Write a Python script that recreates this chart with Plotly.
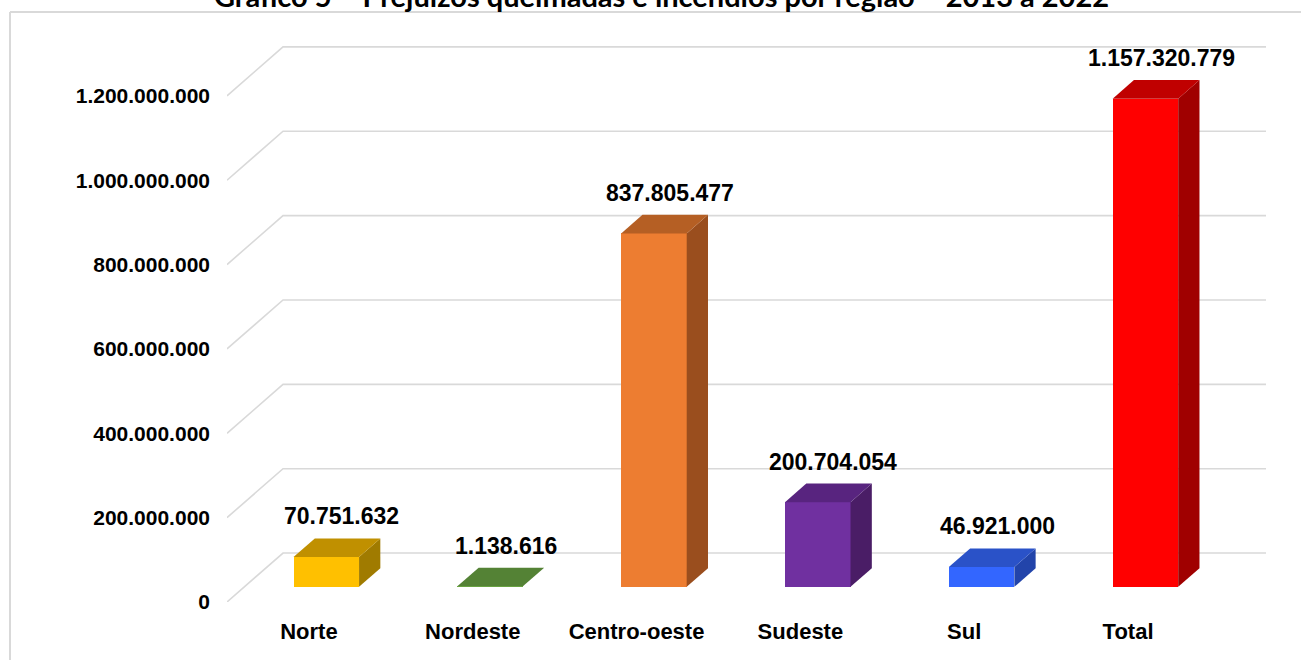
import plotly.graph_objects as go

# ---- data -------------------------------------------------------------
categories = ["Norte", "Nordeste", "Centro-oeste", "Sudeste", "Sul", "Total"]
values = [70751632, 1138616, 837805477, 200704054, 46921000, 1157320779]
y_ticks = [0, 200e6, 400e6, 600e6, 800e6, 1000e6, 1200e6]

front_colors = ["#FFC000", "#70AD47", "#ED7D31", "#7030A0", "#3366FF", "#FF0000"]
top_colors = ["#C09000", "#548235", "#B55F24", "#58247F", "#2A52C8", "#C00000"]
side_colors = ["#A07B00", "#466E2C", "#9A4E1E", "#4A1D66", "#2244AA", "#A00000"]

TITLE = "Gráfico 5 – Prejuízos queimadas e incêndios por região – 2013 a 2022"

# ---- oblique projection of the 3-D floor -----------------------------
FLOOR_DX = 0.342      # floor depth, in category units
FLOOR_DY = 116e6      # floor depth, in value units
BAR_FRONT, BAR_BACK = 0.31, 0.69   # bar position inside the floor depth
BAR_WIDTH = 0.40

x_lo, x_hi = -0.5, len(categories) - 0.5
bar_dx = (BAR_BACK - BAR_FRONT) * FLOOR_DX
bar_dy = (BAR_BACK - BAR_FRONT) * FLOOR_DY
base = BAR_FRONT * FLOOR_DY
xc = [i + BAR_FRONT * FLOOR_DX for i in range(len(categories))]

# page geometry (pixels)
W, H = 1301, 660
ML, MR, MT, MB = 227, 35, 41, 58
pw, ph = W - ML - MR, H - MT - MB


def px_x(p):
    return (p - ML) / pw


def px_y(p):
    return (H - MB - p) / ph


def fmt(v):
    return f"{int(v):,}".replace(",", ".")


fig = go.Figure()

# back-wall grid (below all traces): diagonal on the side wall, then
# horizontal along the back wall
for v in y_ticks:
    fig.add_shape(type="path", xref="x", yref="y", layer="below",
                  path=(f"M {x_lo},{v} L {x_lo + FLOOR_DX},{v + FLOOR_DY} "
                        f"L {x_hi + FLOOR_DX},{v + FLOOR_DY}"),
                  line=dict(color="#D9D9D9", width=1.6))

# front faces
fig.add_trace(go.Bar(x=xc, y=values, base=base, width=BAR_WIDTH,
                     marker=dict(color=front_colors, line=dict(width=0)),
                     hoverinfo="skip", showlegend=False))

# side and top faces of each bar
for i, v in enumerate(values):
    xl = xc[i] - BAR_WIDTH / 2
    xr = xc[i] + BAR_WIDTH / 2
    top = base + v
    fig.add_trace(go.Scatter(
        x=[xr, xr + bar_dx, xr + bar_dx, xr, xr],
        y=[base, base + bar_dy, top + bar_dy, top, base],
        mode="lines", fill="toself", fillcolor=side_colors[i],
        line=dict(width=0, color=side_colors[i]),
        hoverinfo="skip", showlegend=False))
    fig.add_trace(go.Scatter(
        x=[xl, xr, xr + bar_dx, xl + bar_dx, xl],
        y=[top, top, top + bar_dy, top + bar_dy, top],
        mode="lines", fill="toself", fillcolor=top_colors[i],
        line=dict(width=0, color=top_colors[i]),
        hoverinfo="skip", showlegend=False))

# value labels above each bar
for i, v in enumerate(values):
    fig.add_annotation(x=xc[i] + bar_dx / 2, y=base + v + bar_dy,
                       text=fmt(v), showarrow=False, yanchor="bottom",
                       xshift=5, yshift=7,
                       font=dict(family="Liberation Sans", size=23,
                                 color="#000000", weight="bold"))

# title at the very top of the page
fig.add_annotation(xref="paper", yref="paper", x=px_x(661), y=px_y(-4),
                   text=TITLE, showarrow=False, xanchor="center",
                   yanchor="middle",
                   font=dict(family="Lato", size=29, color="#000000",
                             weight="bold"))

# frame lines
fig.add_shape(type="line", xref="paper", yref="paper",
              x0=px_x(10), x1=px_x(W), y0=px_y(12), y1=px_y(12),
              line=dict(color="#D9D9D9", width=2))
fig.add_shape(type="line", xref="paper", yref="paper",
              x0=px_x(10), x1=px_x(10), y0=px_y(12), y1=px_y(H + 2),
              line=dict(color="#D9D9D9", width=2))

fig.update_layout(
    width=W, height=H,
    margin=dict(l=ML, r=MR, t=MT, b=MB),
    paper_bgcolor="#FFFFFF", plot_bgcolor="#FFFFFF",
    separators=",.",
    bargap=0,
    xaxis=dict(range=[x_lo, x_hi + FLOOR_DX], tickvals=list(range(len(categories))),
               ticktext=categories, showgrid=False, zeroline=False,
               showline=False, ticks="", ticklabelstandoff=14,
               tickfont=dict(family="Liberation Sans", size=22,
                             color="#000000", weight="bold"),
               fixedrange=True),
    yaxis=dict(range=[0, 1330e6], tickvals=y_ticks, tickformat=",d",
               showgrid=False, zeroline=False, showline=False, ticks="",
               ticklabelstandoff=16,
               tickfont=dict(family="Liberation Sans", size=21,
                             color="#000000", weight="bold"),
               fixedrange=True),
)

fig.write_html("out.html")
